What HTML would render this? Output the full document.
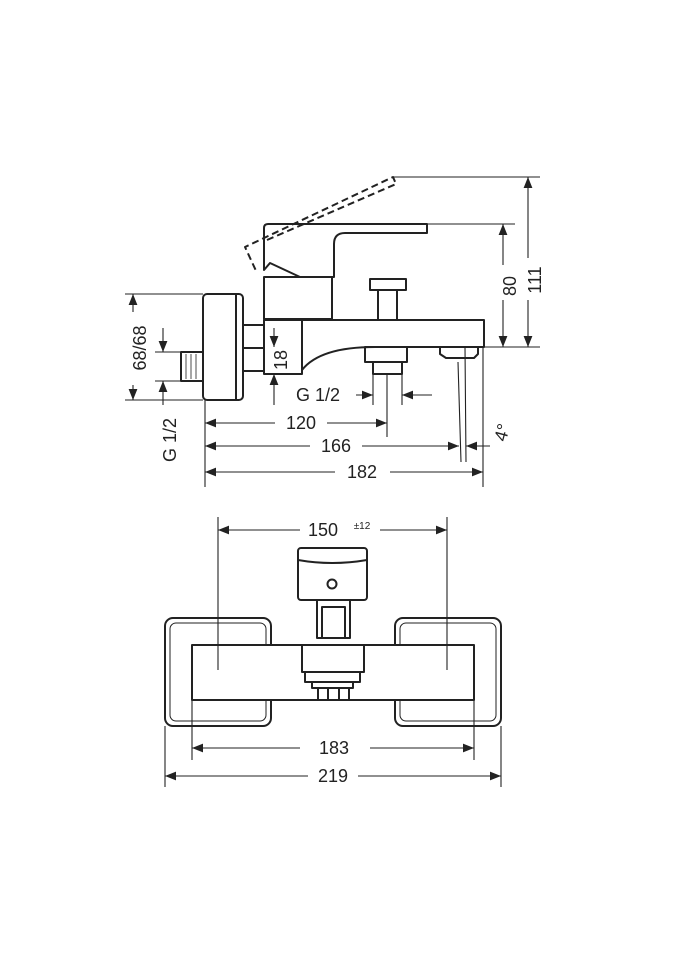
<!DOCTYPE html><html><head><style>body{margin:0;background:#fff}svg{display:block}text{font-family:"Liberation Sans",sans-serif;font-size:18px;fill:#222}</style></head><body>
<svg width="675" height="960" viewBox="0 0 675 960" xmlns="http://www.w3.org/2000/svg">
<defs><marker id="a" viewBox="0 0 10 10" refX="10" refY="5" markerWidth="12" markerHeight="11" markerUnits="userSpaceOnUse" orient="auto-start-reverse"><path d="M0,1 L10,5 L0,9z" fill="#222"/></marker></defs>
<g fill="none" stroke="#222" stroke-width="2" stroke-linejoin="round">
<path d="M267,240 L396,184 L393,177 L245,247 L257,273" stroke-dasharray="7,4"/>
<path d="M264,270 L264,228 Q264,224 268,224 L427,224 L427,233 L345,233 Q334,233 334,244 L334,277 L300,277 L270,263 Z"/>
<rect x="264" y="277" width="68" height="42"/>
<rect x="203" y="294" width="40" height="106" rx="4"/>
<path d="M236,294 L236,400"/>
<rect x="243" y="325" width="21" height="23"/><rect x="243" y="348" width="21" height="23"/>
<rect x="181" y="352" width="22" height="29"/>
<path d="M186,354 L186,379 M191,354 L191,379 M196,354 L196,379" stroke-width="0.8"/>
<path d="M264,320 L484,320 L484,347 L375,347 Q320,347 302,370 L302,374 L264,374 Z"/>
<path d="M302,320 L302,374"/>
<rect x="370" y="279" width="36" height="11"/><rect x="378" y="290" width="19" height="30"/>
<rect x="365" y="347" width="42" height="15"/><rect x="373" y="362" width="29" height="12"/>
<path d="M440,347 L440,354 L446,358 L474,358 L478,354 L478,347"/>
<rect x="165" y="618" width="106" height="108" rx="8"/><rect x="170" y="623" width="96" height="98" rx="6" stroke-width="1"/>
<rect x="395" y="618" width="106" height="108" rx="8"/><rect x="400" y="623" width="96" height="98" rx="6" stroke-width="1"/>
<rect x="192" y="645" width="282" height="55" fill="#fff"/>
<rect x="298" y="548" width="69" height="52" rx="3"/><path d="M298,560 Q332,566 367,560"/>
<circle cx="332" cy="584" r="4.5"/>
<rect x="317" y="600" width="33" height="38"/><rect x="322" y="607" width="23" height="31"/>
<rect x="302" y="645" width="62" height="27"/>
<rect x="305" y="672" width="55" height="10"/><rect x="312" y="682" width="41" height="6"/>
<rect x="318" y="688" width="31" height="12"/><path d="M328,688 V700 M339,688 V700"/>
</g>
<g fill="none" stroke="#222" stroke-width="1.1">
<path d="M393,177 L540,177 M427,224 L515,224 M484,347 L540,347"/>
<path d="M528,258 L528,177" marker-end="url(#a)"/><path d="M528,300 L528,347" marker-end="url(#a)"/>
<path d="M503,265 L503,224" marker-end="url(#a)"/><path d="M503,300 L503,347" marker-end="url(#a)"/>
<path d="M125,294 L203,294 M125,400 L203,400"/>
<path d="M133,312 L133,294" marker-end="url(#a)"/><path d="M133,385 L133,400" marker-end="url(#a)"/>
<path d="M155,352 L181,352 M155,381 L181,381"/>
<path d="M163,328 L163,352" marker-end="url(#a)"/><path d="M163,405 L163,381" marker-end="url(#a)"/>
<path d="M266,374 L302,374"/>
<path d="M274,328 L274,347" marker-end="url(#a)"/><path d="M274,405 L274,374" marker-end="url(#a)"/>
<path d="M373,374 L373,405 M402,374 L402,405"/>
<path d="M356,395 L373,395" marker-end="url(#a)"/><path d="M432,395 L402,395" marker-end="url(#a)"/>
<path d="M205,400 L205,487 M387,374 L387,437 M483,347 L483,487"/>
<path d="M458,362 L461,462 M465,347 L466,462"/>
<path d="M275,423 L205,423" marker-end="url(#a)"/><path d="M327,423 L387,423" marker-end="url(#a)"/>
<path d="M310,446 L205,446" marker-end="url(#a)"/><path d="M362,446 L459,446" marker-end="url(#a)"/>
<path d="M490,446 L466,446" marker-end="url(#a)"/>
<path d="M335,472 L205,472" marker-end="url(#a)"/><path d="M390,472 L483,472" marker-end="url(#a)"/>
<path d="M218,517 L218,670 M447,517 L447,670"/>
<path d="M300,530 L218,530" marker-end="url(#a)"/><path d="M380,530 L447,530" marker-end="url(#a)"/>
<path d="M192,700 L192,760 M474,700 L474,760 M165,726 L165,787 M501,726 L501,787"/>
<path d="M300,748 L192,748" marker-end="url(#a)"/><path d="M370,748 L474,748" marker-end="url(#a)"/>
<path d="M308,776 L165,776" marker-end="url(#a)"/><path d="M358,776 L501,776" marker-end="url(#a)"/>
</g>
<text transform="translate(516,286) rotate(-90)" text-anchor="middle">80</text>
<text transform="translate(541,280) rotate(-90)" text-anchor="middle">111</text>
<text transform="translate(146,348) rotate(-90)" text-anchor="middle">68/68</text>
<text transform="translate(176,440) rotate(-90)" text-anchor="middle">G 1/2</text>
<text transform="translate(287,360) rotate(-90)" text-anchor="middle">18</text>
<text x="318" y="401" text-anchor="middle">G 1/2</text>
<text x="301" y="429" text-anchor="middle">120</text>
<text x="336" y="452" text-anchor="middle">166</text>
<text x="362" y="478" text-anchor="middle">182</text>
<text transform="translate(508,434) rotate(-75)" text-anchor="middle">4°</text>
<text x="323" y="536" text-anchor="middle">150</text><text x="362" y="529" text-anchor="middle" style="font-size:10px">±12</text>
<text x="334" y="754" text-anchor="middle">183</text>
<text x="333" y="782" text-anchor="middle">219</text>
</svg></body></html>
